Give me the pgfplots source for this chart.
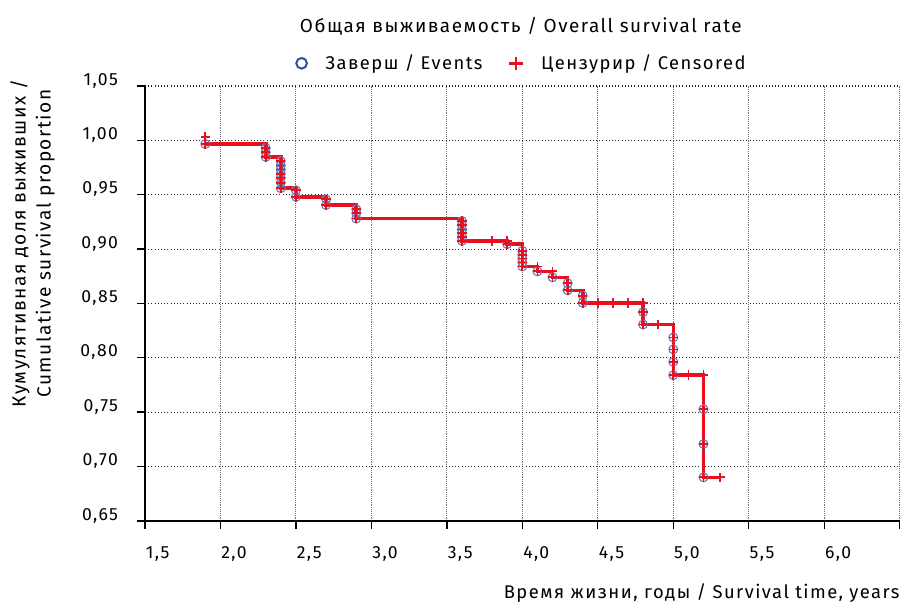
\documentclass[border=0pt]{standalone}
\usepackage{fontspec}
\setmainfont{Fira Sans}[LetterSpace=8]
\usepackage{pgfplots}
\pgfplotsset{compat=1.18}
\definecolor{kmred}{RGB}{232,16,30}
\definecolor{evblue}{RGB}{50,75,165}
\begin{document}
\fontsize{13.8pt}{16pt}\selectfont
\begin{tikzpicture}
\path (-108.75pt,-63pt) rectangle (567.75pt,390.75pt);
\begin{axis}[
  at={(0,0)}, anchor=south west,
  scale only axis, width=566.25pt, height=326.25pt,
  xmin=1.5, xmax=6.5, ymin=0.65, ymax=1.05,
  axis x line*=bottom, axis y line*=left,
  axis line style={line width=1.5pt, black},
  xtick={1.5,2,2.5,3,3.5,4,4.5,5,5.5,6,6.5},
  xticklabels={{1,5},{2,0},{2,5},{3,0},{3,5},{4,0},{4,5},{5,0},{5,5},{6,0},{}},
  ytick={0.65,0.7,0.75,0.8,0.85,0.9,0.95,1.0,1.05},
  yticklabels={{0,65},{0,70},{0,75},{0,80},{0,85},{0,90},{0,95},{1,00},{1,05}},
  tick align=outside, major tick length=6pt,
  tick style={black, line width=1pt},
  ticklabel style={font=\fontsize{13.2pt}{15pt}\selectfont},
  xticklabel style={anchor=north west, inner sep=0pt, yshift=-13pt, xshift=0.5pt},
  yticklabel style={anchor=east, inner sep=0pt, xshift=-14pt, yshift=4pt},
  grid=major,
  major x grid style={densely dotted, black!55, line width=0.7pt},
  major y grid style={dotted, black!85, line width=0.8pt},
  legend style={at={(0.5,1)}, anchor=center, yshift=17pt, draw=none, fill=none,
    legend columns=2, font=\fontsize{13.8pt}{16pt}\selectfont,
    /tikz/every odd column/.append style={column sep=12pt},
    /tikz/every even column/.append style={column sep=18pt}},
  legend cell align=left,
]
\addlegendimage{only marks, mark=o, mark size=4pt, mark options={evblue, line width=1.5pt}}
\addlegendentry{Заверш / Events}
\addlegendimage{only marks, mark=+, mark size=5pt, mark options={kmred, line width=1.8pt}}
\addlegendentry{Цензурир / Censored}
\addplot[const plot, kmred, line width=2.7pt, forget plot] coordinates {
(1.90,0.9967) (2.30,0.9848) (2.40,0.956) (2.50,0.948) (2.70,0.9405)
(2.90,0.928) (3.60,0.9075) (3.90,0.9045) (4.00,0.884) (4.10,0.8795)
(4.20,0.874) (4.30,0.862) (4.40,0.8505) (4.80,0.8306) (5.00,0.784)
(5.20,0.690) (5.31,0.690)};
\addplot[only marks, mark=o, mark size=3.3pt, mark options={evblue!70, line width=0.9pt}, forget plot] coordinates {
(1.9,0.9967)
(2.3,0.993) (2.3,0.989) (2.3,0.9848)
(2.4,0.9808) (2.4,0.9768) (2.4,0.9731) (2.4,0.9692) (2.4,0.9656) (2.4,0.9610) (2.4,0.956)
(2.5,0.954) (2.5,0.948)
(2.7,0.9457) (2.7,0.9405)
(2.9,0.9365) (2.9,0.933) (2.9,0.928)
(3.6,0.9258) (3.6,0.922) (3.6,0.918) (3.6,0.9146) (3.6,0.911) (3.6,0.9075)
(3.9,0.9045)
(4.0,0.8984) (4.0,0.8944) (4.0,0.8914) (4.0,0.8877) (4.0,0.884)
(4.1,0.8795)
(4.2,0.874)
(4.3,0.8685) (4.3,0.862)
(4.4,0.8571) (4.4,0.8505)
(4.8,0.842) (4.8,0.8306)
(5.0,0.8187) (5.0,0.8077) (5.0,0.7962) (5.0,0.784)
(5.2,0.7527) (5.2,0.7207) (5.2,0.690)};
\addplot[only marks, mark=+, mark size=3.5pt, mark options={kmred, line width=1.3pt}, forget plot] coordinates {
(1.9,1.003) (1.9,0.9967)
(2.3,0.993) (2.3,0.989) (2.3,0.9848)
(2.4,0.9808) (2.4,0.9768) (2.4,0.9731) (2.4,0.9692) (2.4,0.9656) (2.4,0.9610) (2.4,0.956)
(2.5,0.954) (2.5,0.948)
(2.7,0.9457) (2.7,0.9405)
(2.9,0.9365) (2.9,0.933) (2.9,0.928)
(3.6,0.9258) (3.6,0.922) (3.6,0.918) (3.6,0.9146) (3.6,0.911) (3.6,0.9075)
(3.8,0.9075) (3.9,0.9075) (3.9,0.9045)
(4.0,0.8984) (4.0,0.8944) (4.0,0.8914) (4.0,0.8877) (4.0,0.884)
(4.1,0.884) (4.1,0.8795) (4.2,0.8795) (4.2,0.874)
(4.3,0.8685) (4.3,0.862)
(4.4,0.8571) (4.4,0.8505)
(4.5,0.8505) (4.6,0.8505) (4.7,0.8505) (4.8,0.8505)
(4.8,0.842) (4.8,0.8306) (4.9,0.8306)
(5.0,0.8187) (5.0,0.8077) (5.0,0.7962) (5.0,0.784)
(5.1,0.784) (5.2,0.784)
(5.2,0.7527) (5.2,0.7207) (5.2,0.690) (5.31,0.690)};
\end{axis}
\node[anchor=base, font=\fontsize{14.2pt}{17pt}\selectfont] at (282pt,366pt) {Общая выживаемость / Overall survival rate};
\node[rotate=90, align=center, font=\fontsize{14.3pt}{18.75pt}\selectfont] at (-84.4pt,208pt) {Кумулятивная доля выживших /\\Cumulative survival proportion};
\node[anchor=base east, inner sep=0pt] at (566.25pt,-58.5pt) {Время жизни, годы / Survival time, years};
\end{tikzpicture}
\end{document}
